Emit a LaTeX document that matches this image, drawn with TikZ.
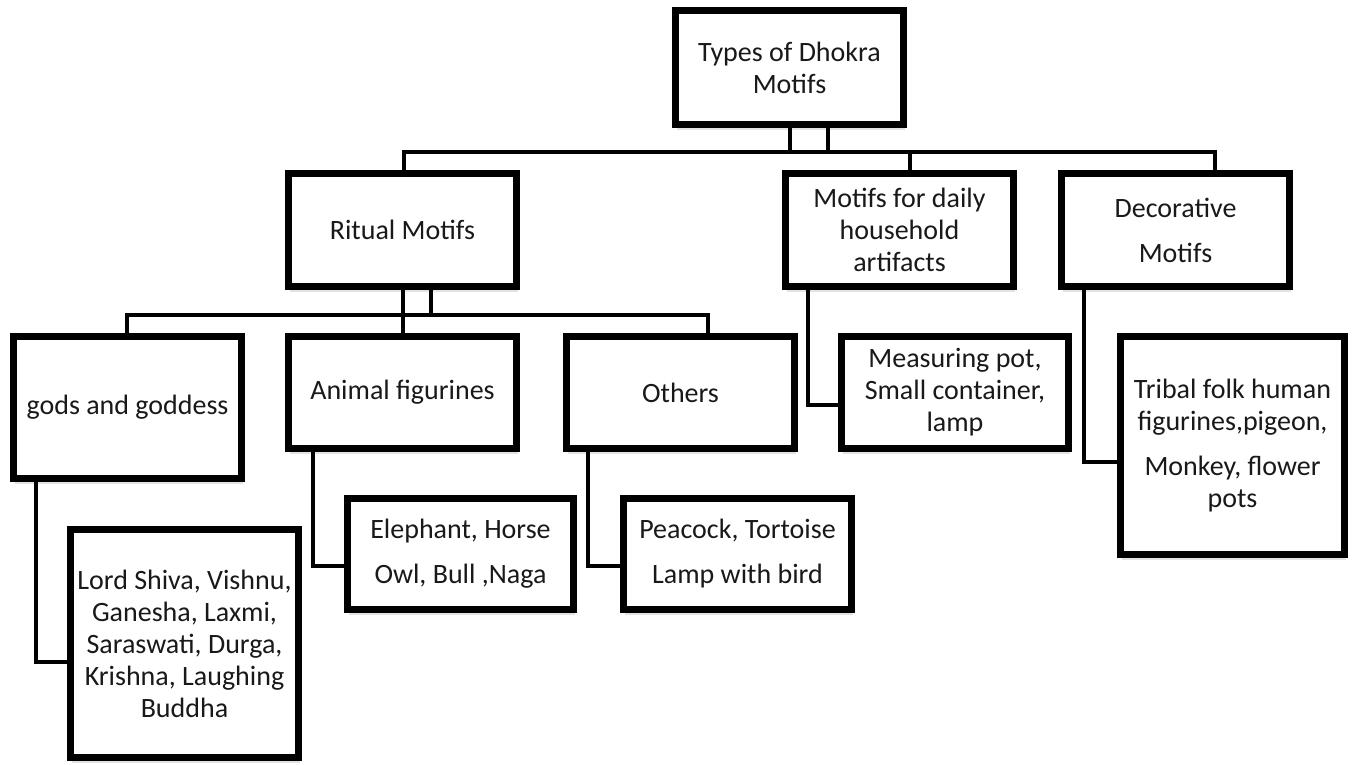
\documentclass[tikz,border=0pt]{standalone}
\usepackage{fontspec}
\setmainfont{Carlito}
\usetikzlibrary{shadows}
\begin{document}
\begin{tikzpicture}[x=1pt,y=-1pt,
  box/.style={draw=black, line width=7pt, fill=white, inner sep=0pt, align=center,
    font=\fontsize{28}{32}\selectfont, text=black!90,
    drop shadow={opacity=0.22, shadow xshift=1.5pt, shadow yshift=-5.5pt}},
  conn/.style={draw=black, line width=4pt}]
\useasboundingbox (0,0) rectangle (1355,764);
\fill[white] (0,0) rectangle (1355,764);

% connectors (drawn first, under the boxes)
\coordinate (b1L) at (404,152);
\coordinate (b1M) at (910,152);
\coordinate (b1R) at (1215,152);
\coordinate (s1) at (790,152);
\coordinate (s2) at (828,152);
\coordinate (b2L) at (127,315);
\coordinate (b2M) at (403,315);
\coordinate (b2R) at (708,315);
\coordinate (s3) at (431,315);
\coordinate (e1) at (36,662);
\coordinate (e2) at (313,566);
\coordinate (e3) at (588,566);
\coordinate (e4) at (808,405);
\coordinate (e5) at (1084,462);

% boxes
\node[box, minimum width=228pt, minimum height=114pt] (top) at (789.5,67.5) {Types of Dhokra\\Motifs};
\node[box, minimum width=228pt, minimum height=113pt] (ritual) at (402.5,230) {Ritual Motifs};
\node[box, minimum width=228pt, minimum height=113pt] (daily) at (899.5,230) {Motifs for daily\\household\\artifacts};
\node[box, minimum width=228pt, minimum height=113pt] (deco) at (1175.5,230) {Decorative\\[13pt]Motifs};
\node[box, minimum width=228pt, minimum height=142pt] (gods) at (127.5,407.5) {gods and goddess};
\node[box, minimum width=228pt, minimum height=112pt] (animal) at (402.5,392.5) {Animal figurines};
\node[box, minimum width=228pt, minimum height=112pt] (others) at (680.5,392.5) {Others};
\node[box, minimum width=227pt, minimum height=112pt] (measure) at (955,392.5) {Measuring pot,\\Small container,\\lamp};
\node[box, minimum width=224pt, minimum height=218pt] (tribal) at (1232.5,445.5) {Tribal folk human\\figurines,pigeon,\\[13pt]Monkey, flower\\pots};
\node[box, minimum width=228pt, minimum height=228pt] (lord) at (184.5,643.5) {Lord Shiva, Vishnu,\\Ganesha, Laxmi,\\Saraswati, Durga,\\Krishna, Laughing\\Buddha};
\node[box, minimum width=226pt, minimum height=111pt] (eleph) at (460.5,554) {Elephant, Horse\\[13pt]Owl, Bull ,Naga};
\node[box, minimum width=228pt, minimum height=111pt] (peacock) at (737.5,554) {Peacock, Tortoise\\[13pt]Lamp with bird};

% level 1 bus
\begin{scope}[on background layer/.style={}]
\end{scope}
\draw[conn] (ritual.north -| b1L) -- (b1L) -- (b1R) -- (deco.north -| b1R);
\draw[conn] (b1M) -- (daily.north -| b1M);
\draw[conn] (top.south -| s1) -- (s1);
\draw[conn] (top.south -| s2) -- (s2);
% level 2 bus
\draw[conn] (gods.north -| b2L) -- (b2L) -- (b2R) -- (others.north -| b2R);
\draw[conn] (ritual.south -| b2M) -- (animal.north -| b2M);
\draw[conn] (ritual.south -| s3) -- (s3);
% elbows
\draw[conn] (gods.south -| e1) -- (e1) -- (lord.west |- e1);
\draw[conn] (animal.south -| e2) -- (e2) -- (eleph.west |- e2);
\draw[conn] (others.south -| e3) -- (e3) -- (peacock.west |- e3);
\draw[conn] (daily.south -| e4) -- (e4) -- (measure.west |- e4);
\draw[conn] (deco.south -| e5) -- (e5) -- (tribal.west |- e5);
\end{tikzpicture}
\end{document}
